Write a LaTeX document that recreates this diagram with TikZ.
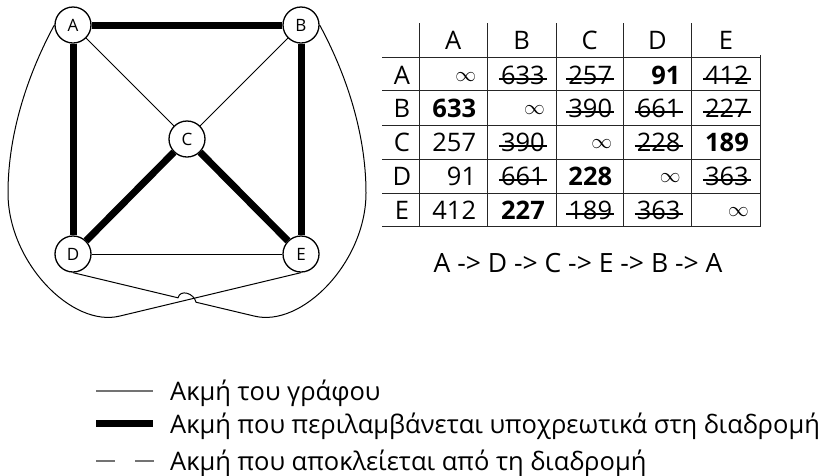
\documentclass[tikz,border=0pt]{standalone}
\usepackage{fontspec}
\setmainfont{Open Sans}
\usetikzlibrary{positioning,calc}

\newcommand{\infy}{\raisebox{3pt}{\fontsize{21}{21}\selectfont$\infty$}}

\begin{document}
\begin{tikzpicture}[x=1pt, y=-1pt,
  every node/.style={font=\fontsize{25.5}{28}\selectfont},
  vertex/.style={circle, draw, line width=1.3pt, fill=white, minimum size=36pt, inner sep=0pt, font=\fontsize{17}{17}\selectfont},
  edge/.style={draw=black, line width=1pt},
  tour/.style={draw=black, line width=7pt},
  grid/.style={draw=black!85, line width=1pt},
  cell/.style={anchor=base east, inner sep=2pt},
  hdr/.style={anchor=base, inner sep=0pt},
  pick/.style={cell, font=\fontsize{25.5}{28}\selectfont\bfseries},
  struck/.style={cell, append after command={([yshift=5pt]\tikzlastnode.base west) edge[line width=1.3pt] ([yshift=5pt]\tikzlastnode.base east)}},
  legend/.style={anchor=base west, inner sep=0pt}]
  \useasboundingbox (0,0) rectangle (821,475);

  % graph
  \node[vertex] (A) at (73,25) {A};
  \node[vertex] (B) at (301,25) {B};
  \node[vertex] (C) at (187,139) {C};
  \node[vertex] (D) at (73,254) {D};
  \node[vertex] (E) at (301,254) {E};
  \draw[edge] (A) -- (C);
  \draw[edge] (B) -- (C);
  \draw[edge] (D) -- (E);
  \draw[tour] (A) -- (B);
  \draw[tour] (A) -- (D);
  \draw[tour] (B) -- (E);
  \draw[tour] (D) -- (C);
  \draw[tour] (C) -- (E);
  \draw[edge] (A.west) .. controls (30,70) and (8,130) .. (8,193)
    .. controls (8,262) and (72,328) .. (120,316) -- (E.south);
  \draw[edge] (B.east) .. controls (344,70) and (366,130) .. (366,193)
    .. controls (366,262) and (302,328) .. (254,316) -- (196,302.2)
    .. controls (194,293) and (180,289) .. (178,297.8) -- (D.south);

  % table
  \draw[grid] (382,57.3) -- (760,57.3);
  \draw[grid] (382,90.7) -- (760,90.7);
  \draw[grid] (382,125) -- (760,125);
  \draw[grid] (382,159.3) -- (760,159.3);
  \draw[grid] (382,193.3) -- (760,193.3);
  \draw[grid] (382,226.7) -- (760,226.7);
  \draw[grid] (419.3,23) -- (419.3,226.7);
  \draw[grid] (487.3,23) -- (487.3,226.7);
  \draw[grid] (556,23) -- (556,226.7);
  \draw[grid] (623.3,23) -- (623.3,226.7);
  \draw[grid] (691.7,23) -- (691.7,226.7);
  \draw[grid] (760,55) -- (760,226.7);

  \node[hdr] (hA) at (453.3,49.7) {A};
  \node[hdr] (hB) at (521.7,49.7) {B};
  \node[hdr] (hC) at (589.7,49.7) {C};
  \node[hdr] (hD) at (657.5,49.7) {D};
  \node[hdr] (hE) at (725.9,49.7) {E};
  \node[hdr] (rA) at (402,84) {A};
  \node[hdr] (rB) at (402,117) {B};
  \node[hdr] (rC) at (402,151) {C};
  \node[hdr] (rD) at (402,185) {D};
  \node[hdr] (rE) at (402,219) {E};

  \node[cell] (aa) at (478.3,84) {\infy};
  \node[struck] (ab) at (547,84) {633};
  \node[struck] (ac) at (614.3,84) {257};
  \node[pick] (ad) at (682.7,84) {91};
  \node[struck] (ae) at (751,84) {412};

  \node[pick] (ba) at (478.3,117) {633};
  \node[cell] (bb) at (547,117) {\infy};
  \node[struck] (bc) at (614.3,117) {390};
  \node[struck] (bd) at (682.7,117) {661};
  \node[struck] (be) at (751,117) {227};

  \node[cell] (ca) at (478.3,151) {257};
  \node[struck] (cb) at (547,151) {390};
  \node[cell] (cc) at (614.3,151) {\infy};
  \node[struck] (cd) at (682.7,151) {228};
  \node[pick] (ce) at (751,151) {189};

  \node[cell] (da) at (478.3,185) {91};
  \node[struck] (db) at (547,185) {661};
  \node[pick] (dc) at (614.3,185) {228};
  \node[cell] (dd) at (682.7,185) {\infy};
  \node[struck] (de) at (751,185) {363};

  \node[cell] (ea) at (478.3,219) {412};
  \node[pick] (eb) at (547,219) {227};
  \node[struck] (ec) at (614.3,219) {189};
  \node[struck] (ed) at (682.7,219) {363};
  \node[cell] (ee) at (751,219) {\infy};

  \node[font=\fontsize{26.5}{28}\selectfont] (route) at (578,263) {A -> D -> C -> E -> B -> A};

  % legend
  \node[legend] (l1) at (170,400) {Ακμή του γράφου};
  \node[legend] (l2) at (170,433) {Ακμή που περιλαμβάνεται υποχρεωτικά στη διαδρομή};
  \node[legend] (l3) at (170,470) {Ακμή που αποκλείεται από τη διαδρομή};
  \draw[edge, draw=black!55, line width=1.5pt] (96,391) -- (153,391);
  \draw[tour] (96,423.5) -- (153,423.5);
  \draw[edge, draw=black!55, line width=1.5pt, dash pattern=on 19pt off 20pt] (96,461) -- (154,461);
\end{tikzpicture}
\end{document}
